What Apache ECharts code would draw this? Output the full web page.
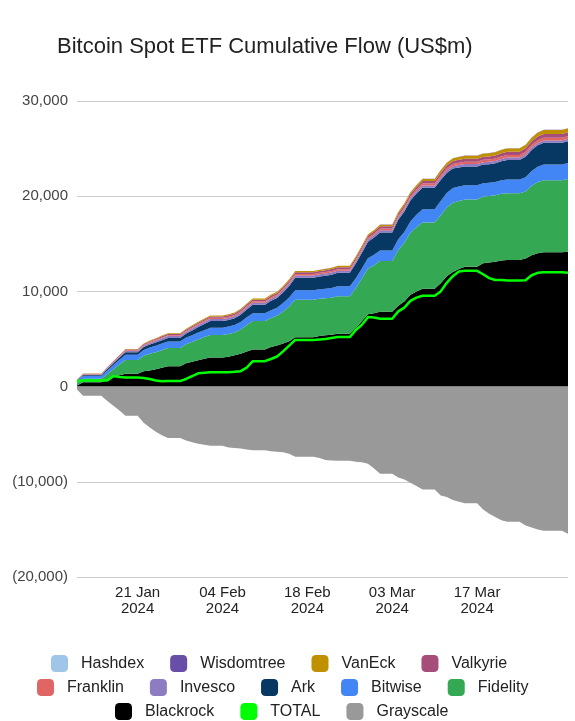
<!DOCTYPE html>
<html>
<head>
<meta charset="utf-8">
<title>Bitcoin Spot ETF Cumulative Flow</title>
<script src="https://cdn.jsdelivr.net/npm/echarts@6/dist/echarts.min.js"></script>
<style>
  html, body { margin: 0; padding: 0; background: #fff; }
  #chart { width: 575px; height: 721px; }
</style>
</head>
<body>
<div id="chart"></div>
<script>
// trading days, cumulative flow in US$m
const tradeDates = [
  '2024-01-11', '2024-01-12', '2024-01-16', '2024-01-17', '2024-01-18', '2024-01-19',
  '2024-01-22', '2024-01-23', '2024-01-24', '2024-01-25', '2024-01-26',
  '2024-01-29', '2024-01-30', '2024-01-31', '2024-02-01', '2024-02-02',
  '2024-02-05', '2024-02-06', '2024-02-07', '2024-02-08', '2024-02-09',
  '2024-02-12', '2024-02-13', '2024-02-14', '2024-02-15', '2024-02-16',
  '2024-02-20', '2024-02-21', '2024-02-22', '2024-02-23',
  '2024-02-26', '2024-02-27', '2024-02-28', '2024-02-29', '2024-03-01',
  '2024-03-04', '2024-03-05', '2024-03-06', '2024-03-07', '2024-03-08',
  '2024-03-11', '2024-03-12', '2024-03-13', '2024-03-14', '2024-03-15',
  '2024-03-18', '2024-03-19', '2024-03-20', '2024-03-21', '2024-03-22',
  '2024-03-25', '2024-03-26', '2024-03-27', '2024-03-28', '2024-04-01',
];

const blackrock = [
  110, 450, 720, 980, 1180, 1350, 1600, 1700, 1820, 1980, 2150,
  2450, 2620, 2760, 2920, 3060, 3140, 3280, 3450, 3680, 3900,
  4160, 4330, 4540, 4770, 5180, 5320, 5390, 5440, 5550,
  6150, 6900, 7600, 7700, 7850, 8500, 8950, 9650, 10000, 10280,
  10850, 11600, 12050, 12350, 12600, 12950, 13030, 13110, 13250, 13300,
  13450, 13800, 14000, 14100, 14160,
];
const fidelity = [
  230, 380, 600, 850, 1150, 1450, 1650, 1750, 1800, 1850, 1900,
  2000, 2080, 2200, 2280, 2350, 2380, 2400, 2550, 2800, 3000,
  3050, 3100, 3350, 3650, 3950, 3900, 3880, 3900, 3950,
  4200, 4450, 4800, 5050, 5350, 5850, 6150, 6500, 6750, 6950,
  7150, 7200, 7250, 7150, 7050, 7000, 6980, 6990, 7000, 7020,
  7050, 7300, 7500, 7580, 7640,
];
const bitwise = [
  240, 300, 380, 430, 490, 540, 600, 650, 680, 700, 700,
  700, 700, 710, 720, 780, 780, 780, 790, 800, 800,
  820, 840, 880, 940, 990, 1000, 1000, 1020, 1030,
  1040, 1050, 1070, 1090, 1100, 1130, 1150, 1200, 1300, 1400,
  1500, 1530, 1550, 1520, 1500, 1420, 1400, 1400, 1420, 1440,
  1500, 1560, 1600, 1650, 1690,
];
const ark = [
  65, 100, 150, 190, 230, 270, 300, 320, 340, 350, 360,
  420, 500, 580, 650, 700, 700, 720, 760, 820, 900,
  980, 1030, 1120, 1220, 1320, 1350, 1380, 1400, 1420,
  1550, 1650, 1750, 1820, 1900, 2050, 2150, 2200, 2230, 2250,
  2200, 2120, 2050, 2000, 1980, 1960, 1950, 1950, 2000, 2050,
  2150, 2200, 2250, 2280, 2290,
];
const invesco = [
  20, 40, 60, 80, 100, 130, 150, 170, 180, 190, 195,
  200, 205, 210, 215, 215, 215, 215, 216, 218, 220,
  220, 220, 222, 224, 225, 225, 226, 227, 228,
  230, 232, 233, 234, 235, 236, 237, 238, 240, 242,
  245, 246, 246, 247, 247, 247, 247, 248, 248, 248,
  249, 249, 250, 250, 250,
];
const franklin = [
  40, 50, 60, 65, 70, 75, 80, 85, 90, 95, 100,
  105, 110, 115, 120, 120, 125, 128, 130, 135, 138,
  140, 142, 145, 147, 150, 152, 154, 156, 158,
  162, 166, 168, 170, 175, 182, 187, 189, 195, 205,
  225, 230, 234, 238, 241, 245, 247, 250, 255, 258,
  263, 268, 273, 277, 280,
];
const valkyrie = [
  20, 30, 45, 55, 65, 80, 90, 100, 110, 120, 125,
  130, 135, 140, 145, 150, 152, 155, 158, 165, 168,
  172, 176, 180, 184, 188, 192, 195, 198, 200,
  205, 210, 213, 216, 222, 232, 238, 242, 250, 262,
  290, 298, 305, 312, 318, 325, 328, 335, 345, 352,
  362, 374, 390, 405, 420,
];
const vaneck = [
  15, 25, 30, 35, 40, 50, 55, 60, 65, 70, 75,
  80, 85, 90, 95, 100, 103, 107, 110, 116, 118,
  122, 126, 127, 129, 131, 135, 139, 143, 148,
  157, 166, 170, 174, 182, 194, 202, 205, 215, 228,
  270, 284, 293, 309, 319, 327, 331, 339, 352, 360,
  372, 381, 394, 403, 400,
];
const wisdomtree = [
  3, 3, 3, 3, 3, 3, 3, 3, 3, 3, 3,
  3, 3, 3, 3, 3, 3, 3, 4, 4, 4,
  4, 4, 4, 4, 4, 4, 4, 4, 4,
  4, 4, 4, 4, 4, 4, 4, 4, 7, 9,
  13, 14, 14, 15, 16, 17, 17, 18, 19, 20,
  21, 23, 26, 28, 30,
];
const hashdex = [
  2, 2, 2, 2, 2, 2, 2, 2, 2, 2, 2,
  2, 2, 2, 2, 2, 2, 2, 2, 2, 2,
  2, 2, 2, 2, 2, 2, 2, 2, 2,
  2, 2, 2, 2, 2, 2, 2, 2, 3, 4,
  7, 8, 8, 9, 9, 9, 10, 10, 11, 12,
  13, 15, 17, 17, 20,
];
const grayscale = [
  -300, -950, -1500, -2000, -2500, -3050, -3800, -4300, -4750, -5100, -5400,
  -5650, -5850, -6000, -6100, -6220, -6400, -6450, -6500, -6600, -6680,
  -6800, -6850, -6900, -7050, -7380, -7500, -7700, -7750, -7800,
  -7900, -7950, -8100, -8600, -9150, -9550, -9750, -10100, -10450, -10800,
  -11450, -11600, -11900, -12100, -12250, -12900, -13350, -13700, -14050, -14200,
  -14600, -14800, -15000, -15150, -15450,
];
const total = [
  600, 650, 650, 1100, 1000, 950, 900, 800, 650, 560, 580,
  800, 1100, 1400, 1450, 1500, 1500, 1550, 1620, 2000, 2670,
  2900, 3160, 3700, 4300, 4900, 4950, 5000, 5100, 5200,
  5950, 6500, 7300, 7250, 7130, 7900, 8300, 9000, 9350, 9550,
  10000, 10900, 11600, 12100, 12160, 11800, 11400, 11200, 11200, 11150,
  11180, 11700, 11950, 12000, 11950,
];

const tickDates = ['2024-01-21', '2024-02-04', '2024-02-18', '2024-03-03', '2024-03-17'];
const monthNames = ['Jan', 'Feb', 'Mar', 'Apr'];

// stacked bottom to top
const stackSeries = [
  { name: 'Blackrock', color: '#000000', values: blackrock },
  { name: 'Fidelity', color: '#34a853', values: fidelity },
  { name: 'Bitwise', color: '#4285f4', values: bitwise },
  { name: 'Ark', color: '#073763', values: ark },
  { name: 'Invesco', color: '#8e7cc3', values: invesco },
  { name: 'Franklin', color: '#e06666', values: franklin },
  { name: 'Valkyrie', color: '#a64d79', values: valkyrie },
  { name: 'VanEck', color: '#bf9000', values: vaneck },
  { name: 'Wisdomtree', color: '#674ea7', values: wisdomtree },
  { name: 'Hashdex', color: '#9fc5e8', values: hashdex },
];

const legendRows = [
  { left: 46, top: 650, names: ['Hashdex', 'Wisdomtree', 'VanEck', 'Valkyrie'] },
  { left: 32, top: 674, names: ['Franklin', 'Invesco', 'Ark', 'Bitwise', 'Fidelity'] },
  { left: 110, top: 698, names: ['Blackrock', 'TOTAL', 'Grayscale'] },
];

// calendar days on the axis; the cumulative figure holds over non-trading days
function calendarDays() {
  const out = [];
  const start = Date.UTC(2024, 0, 11);
  const end = Date.UTC(2024, 3, 1);
  for (let t = start; t <= end; t += 86400000) {
    out.push(new Date(t).toISOString().slice(0, 10));
  }
  return out;
}

const days = calendarDays();

function onCalendar(values) {
  let j = -1;
  return days.map((d) => {
    while (j + 1 < tradeDates.length && tradeDates[j + 1] <= d) j++;
    return values[j];
  });
}

function fmtAxis(v) {
  const s = Math.abs(v).toLocaleString('en-US');
  return v < 0 ? '(' + s + ')' : s;
}

const font = 'Arial, "Liberation Sans", sans-serif';

const series = stackSeries.map((s) => ({
  name: s.name,
  type: 'line',
  stack: 'pos',
  symbol: 'none',
  color: s.color,
  lineStyle: { width: 0 },
  areaStyle: { color: s.color, opacity: 1 },
  data: onCalendar(s.values),
}));

series.push({
  name: 'Grayscale',
  type: 'line',
  stack: 'neg',
  symbol: 'none',
  color: '#999999',
  lineStyle: { width: 0 },
  areaStyle: { color: '#999999', opacity: 1 },
  data: onCalendar(grayscale),
});

series.push({
  name: 'TOTAL',
  type: 'line',
  symbol: 'none',
  color: '#00ff00',
  z: 5,
  lineStyle: { width: 2.5, color: '#00ff00' },
  data: onCalendar(total),
});

const chart = echarts.init(document.getElementById('chart'));

chart.setOption({
  animation: false,
  textStyle: { fontFamily: font },
  title: {
    text: 'Bitcoin Spot ETF Cumulative Flow (US$m)',
    left: 52,
    top: 31,
    textStyle: { fontFamily: font, fontSize: 22, fontWeight: 'normal', color: '#222' },
  },
  legend: legendRows.map((r) => ({
    data: r.names,
    left: r.left,
    top: r.top,
    orient: 'horizontal',
    icon: 'roundRect',
    itemWidth: 17,
    itemHeight: 17,
    itemGap: 26,
    selectedMode: false,
    textStyle: { fontFamily: font, fontSize: 16, color: '#222', padding: [0, 0, 0, 8] },
  })),
  grid: { left: 77, right: 7, top: 101, bottom: 144, containLabel: false },
  xAxis: {
    type: 'category',
    data: days,
    boundaryGap: false,
    axisLine: { show: false },
    axisTick: { show: false },
    splitLine: { show: false },
    axisLabel: {
      interval: (i, v) => tickDates.includes(v),
      margin: 8,
      fontSize: 15,
      lineHeight: 16,
      color: '#222',
      formatter: (v) => {
        const [y, m, d] = v.split('-');
        return d + ' ' + monthNames[+m - 1] + '\n' + y;
      },
    },
  },
  yAxis: {
    type: 'value',
    min: -20000,
    max: 30000,
    interval: 10000,
    axisLine: { show: false },
    axisTick: { show: false },
    splitLine: { lineStyle: { color: '#cccccc', width: 1 } },
    axisLabel: { margin: 9, fontSize: 15, color: '#444', formatter: fmtAxis },
  },
  series,
});
</script>
</body>
</html>
